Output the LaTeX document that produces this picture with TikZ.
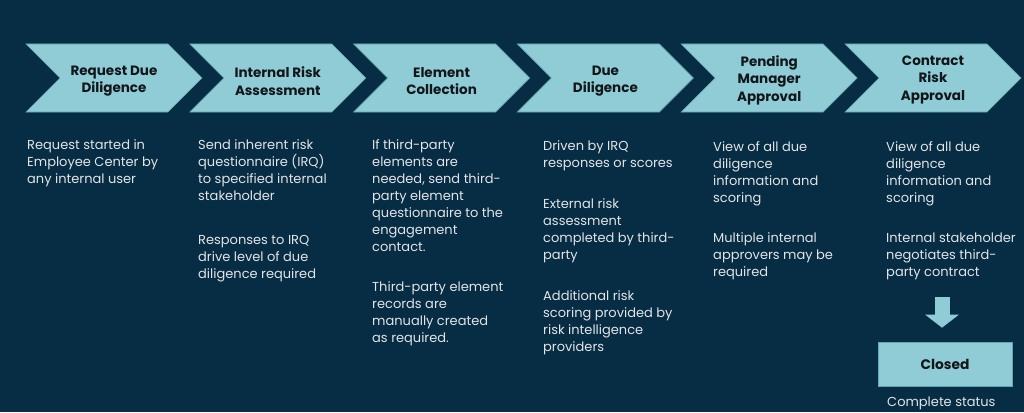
\documentclass[tikz,border=0pt]{standalone}
\usepackage{fontspec}
\setmainfont{Poppins}
\usetikzlibrary{shapes, arrows.meta, positioning}
\definecolor{bgnavy}{RGB}{6, 45, 68}
\definecolor{chevteal}{RGB}{143, 204, 213}
\definecolor{chevline}{RGB}{98, 164, 178}
\definecolor{textgrey}{RGB}{226, 228, 230}
\definecolor{titleink}{RGB}{18, 22, 26}

\begin{document}
\begin{tikzpicture}[x=1pt, y=-1pt,
        chevron/.style={signal, signal from=west, signal to=east, signal pointer angle=90, minimum width=176pt, minimum height=68pt, inner sep=0pt, fill=chevteal, draw=chevline, line width=0.6pt},
        chevtitle/.style={align=center, inner sep=0pt, text=titleink, font=\bfseries\fontsize{13.5}{17.5}\selectfont},
        desc/.style={anchor=base west, align=left, inner sep=0pt, text=textgrey, font=\fontsize{13}{17}\selectfont},
        closedbox/.style={rectangle, minimum width=134pt, minimum height=44pt, fill=chevteal, draw=chevline, line width=0.6pt, text=titleink, font=\bfseries\fontsize{13.8}{16}\selectfont}
    ]
        \fill[bgnavy] (0, 0) rectangle (1024, 412);
        \useasboundingbox (0, 0) rectangle (1024, 412);

        % process chevrons
        \node[chevron] (request) at (114, 78) {};
        \node[chevron] (internal) at (277.8, 78) {};
        \node[chevron] (element) at (441.6, 78) {};
        \node[chevron] (due) at (605.4, 78) {};
        \node[chevron] (pending) at (769.2, 78) {};
        \node[chevron] (contract) at (933, 78) {};

        \node[chevtitle, yshift=-3pt] (requestT) at (request) {Request Due\\Diligence};
        \node[chevtitle, yshift=-3pt] (internalT) at (internal) {Internal Risk\\Assessment};
        \node[chevtitle, yshift=-3pt] (elementT) at (element) {Element\\Collection};
        \node[chevtitle, yshift=-3pt] (dueT) at (due) {Due\\Diligence};
        \node[chevtitle, yshift=-2pt] (pendingT) at (pending) {Pending\\Manager\\Approval};
        \node[chevtitle, yshift=-2pt] (contractT) at (contract) {Contract\\Risk\\Approval};

        % descriptions (base = last line)
        \node[desc] (requestA) at (27, 183) {Request started in\\Employee Center by\\any internal user};
        \node[desc] (internalA) at (198, 200) {Send inherent risk\\questionnaire (IRQ)\\to specified internal\\stakeholder};
        \node[desc] (internalB) at (198, 278) {Responses to IRQ\\drive level of due\\diligence required};
        \node[desc] (elementA) at (372, 251) {If third-party\\elements are\\needed, send third-\\party element\\questionnaire to the\\engagement\\contact.};
        \node[desc] (elementB) at (372, 342) {Third-party element\\records are\\manually created\\as required.};
        \node[desc] (dueA) at (543, 167) {Driven by IRQ\\responses or scores};
        \node[desc] (dueB) at (543, 259) {External risk\\assessment\\completed by third-\\party};
        \node[desc] (dueC) at (543, 351) {Additional risk\\scoring provided by\\risk intelligence\\providers};
        \node[desc] (pendingA) at (713, 202) {View of all due\\diligence\\information and\\scoring};
        \node[desc] (pendingB) at (713, 276) {Multiple internal\\approvers may be\\required};
        \node[desc] (contractA) at (886, 202) {View of all due\\diligence\\information and\\scoring};
        \node[desc] (contractB) at (886, 276) {Internal stakeholder\\negotiates third-\\party contract};

        % final state
        \node[closedbox] (closed) at (945, 364) {Closed};
        \node[desc] (closedA) at (887, 406) {Complete status};

        \coordinate (arrowtop) at (942, 297);
        \draw[chevteal, line width=15pt, -{Triangle[width=33pt, length=13pt]}] (arrowtop) -- ([yshift=14pt]closed.north -| arrowtop);
    \end{tikzpicture}
\end{document}
